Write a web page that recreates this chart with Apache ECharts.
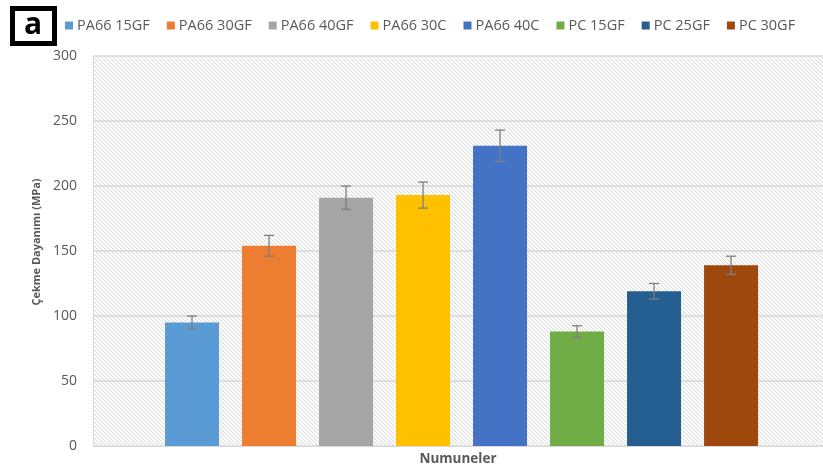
<!DOCTYPE html>
<html>
<head>
<meta charset="utf-8">
<script src="https://cdn.jsdelivr.net/npm/echarts@6/dist/echarts.min.js"></script>
<style>
  html, body { margin: 0; padding: 0; background: #fff; }
  #chart { width: 823px; height: 471px; }
</style>
</head>
<body>
<div id="chart"></div>
<script>
// Sample names, mean tensile strength (MPa) and standard deviation
const samples = ['PA66 15GF', 'PA66 30GF', 'PA66 40GF', 'PA66 30C', 'PA66 40C', 'PC 15GF', 'PC 25GF', 'PC 30GF'];
const strength = [95, 154, 191, 193, 231, 88, 119, 139];
const deviation = [5, 8, 9, 10, 12, 4.5, 6, 7];
const colors = ['#5B9BD5', '#ED7D31', '#A5A5A5', '#FFC000', '#4472C4', '#70AD47', '#255E91', '#9E480E'];
const yTicks = [0, 50, 100, 150, 200, 250, 300];

// Diagonal hatch used as the plot-area fill
function hatchPattern() {
  const n = 4;
  const c = document.createElement('canvas');
  c.width = n; c.height = n;
  const ctx = c.getContext('2d');
  ctx.fillStyle = '#ffffff';
  ctx.fillRect(0, 0, n, n);
  ctx.fillStyle = '#dcdcdc';
  for (let i = 0; i < n; i++) ctx.fillRect(i, i, 1, 1);
  ctx.fillStyle = '#f4f4f4';
  for (let i = 0; i < n; i++) ctx.fillRect((i + 1) % n, i, 1, 1);
  return { image: c, repeat: 'repeat' };
}

const chart = echarts.init(document.getElementById('chart'), null, { renderer: 'canvas' });

const barSeries = samples.map((name, i) => ({
  type: 'bar',
  name: name,
  data: [[i + 1, strength[i]]],
  barWidth: 54,
  barGap: '-100%',
  itemStyle: { color: colors[i] },
  z: 2
}));

const errorSeries = {
  type: 'custom',
  name: 'sd',
  data: strength.map((v, i) => [i + 1, v - deviation[i], v + deviation[i]]),
  encode: { x: 0, y: [1, 2] },
  z: 5,
  renderItem: function (params, api) {
    const lo = api.coord([api.value(0), api.value(1)]);
    const hi = api.coord([api.value(0), api.value(2)]);
    const w = 5;
    const st = { stroke: '#7f7f7f', lineWidth: 1.3 };
    return {
      type: 'group',
      children: [
        { type: 'line', shape: { x1: hi[0], y1: hi[1], x2: lo[0], y2: lo[1] }, style: st },
        { type: 'line', shape: { x1: hi[0] - w, y1: hi[1], x2: hi[0] + w, y2: hi[1] }, style: st },
        { type: 'line', shape: { x1: lo[0] - w, y1: lo[1], x2: lo[0] + w, y2: lo[1] }, style: st }
      ]
    };
  }
};

chart.setOption({
  animation: false,
  textStyle: { fontFamily: 'Open Sans, DejaVu Sans, sans-serif' },
  graphic: [
    {
      type: 'rect',
      left: 10, top: 6,
      shape: { width: 42, height: 35 },
      style: { fill: '#ffffff', stroke: '#000000', lineWidth: 5 }
    },
    {
      type: 'text',
      x: 33, y: 25,
      style: {
        text: 'a', font: 'bold 30px "Open Sans", sans-serif', fill: '#000000',
        align: 'center', verticalAlign: 'middle'
      }
    }
  ],
  legend: {
    data: samples,
    left: 60,
    top: 13,
    icon: 'rect',
    itemWidth: 8,
    itemHeight: 8,
    itemGap: 17,
    textStyle: { color: '#595959', fontSize: 14.5, padding: [0, 0, 0, -1] }
  },
  grid: {
    left: 93, right: 0, top: 56, bottom: 24,
    show: true,
    backgroundColor: hatchPattern(),
    borderWidth: 0
  },
  xAxis: {
    type: 'value',
    min: -0.286,
    max: 9.194,
    name: 'Numuneler',
    nameLocation: 'middle',
    nameGap: 6,
    nameTextStyle: { color: '#595959', fontWeight: 'bold', fontSize: 13.5, verticalAlign: 'top' },
    axisLine: { show: true, lineStyle: { color: '#d9d9d9', width: 1 } },
    axisTick: { show: false },
    axisLabel: { show: false },
    splitLine: { show: false }
  },
  yAxis: {
    type: 'value',
    min: yTicks[0],
    max: yTicks[yTicks.length - 1],
    interval: yTicks[1] - yTicks[0],
    name: 'Çekme Dayanımı (MPa)',
    nameLocation: 'middle',
    nameGap: 44,
    nameTextStyle: {
      color: '#595959', fontWeight: 'bold', fontSize: 11,
      backgroundColor: 'rgba(255,255,255,0)',
      padding: [0, 0, 0, 18]
    },
    axisLine: { show: true, onZero: false, lineStyle: { color: '#d9d9d9', width: 1 } },
    axisTick: { show: false },
    axisLabel: { color: '#595959', fontSize: 14, margin: 16 },
    splitLine: { show: true, lineStyle: { color: '#d9d9d9', width: 1.5 } }
  },
  series: barSeries.concat([errorSeries])
});
</script>
</body>
</html>
